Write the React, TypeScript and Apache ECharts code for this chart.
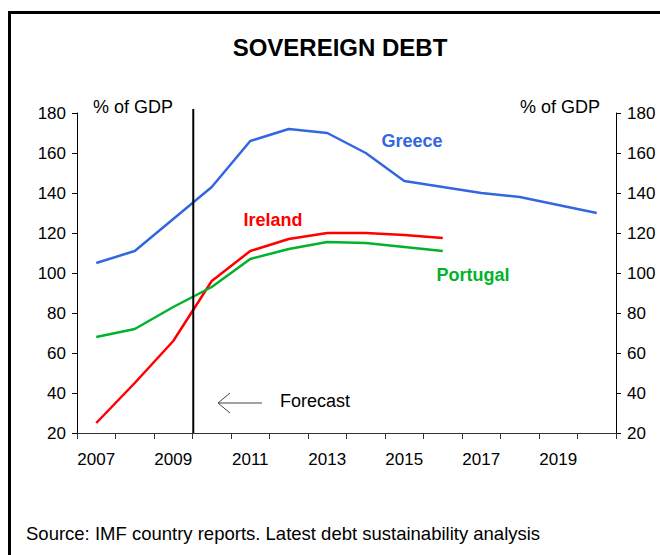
import React, { useEffect, useRef } from "react";
import * as echarts from "echarts";

const years = ["2007","2008","2009","2010","2011","2012","2013","2014","2015","2016","2017","2018","2019","2020"];
const greece = [105, 111, 127, 143, 166, 172, 170, 160, 146, 143, 140, 138, 134, 130];
const ireland = [25, 45, 66, 96, 111, 117, 120, 120, 119, 117.5];
const portugal = [68, 72, 83, 93, 107, 112, 115.5, 115, 113, 111];
const forecastStart = 2009.52;
const forecastLine = [[forecastStart, 20], [forecastStart, 182]];
const yTicks = { min: 20, max: 180, interval: 20 };

const FONT = "'Liberation Sans', Arial, sans-serif";
const BLUE = "#3366e0";
const RED = "#ff0000";
const GREEN = "#00b32d";

export default function App() {
  const ref = useRef<HTMLDivElement>(null);
  useEffect(() => {
    document.body.style.margin = "0";
    const chart = echarts.init(ref.current!, null, { renderer: "svg" });
    const axisLabel = { fontSize: 17, color: "#000", fontFamily: FONT, margin: 11 };
    const yAxisBase = {
      type: "value",
      min: yTicks.min,
      max: yTicks.max,
      interval: yTicks.interval,
      axisLine: { show: true, lineStyle: { color: "#000", width: 1 } },
      axisTick: { show: true, length: 5, lineStyle: { color: "#000" } },
      splitLine: { show: false },
      axisLabel,
    };
    const txt = (text: string, x: number, y: number, opts: any = {}) => ({
      type: "text",
      x,
      y,
      silent: true,
      style: {
        text,
        fill: opts.fill || "#000",
        font: `${opts.weight || "normal"} ${opts.size || 18}px ${FONT}`,
        align: opts.align || "left",
        verticalAlign: "middle",
      },
    });
    chart.setOption({
      animation: false,
      backgroundColor: "#fff",
      grid: { left: 77, right: 44, top: 113, bottom: 122 },
      xAxis: [
        {
          type: "category",
          data: years,
          boundaryGap: true,
          axisLine: { show: true, lineStyle: { color: "#333", width: 1 } },
          axisTick: { show: true, interval: 0, length: 6, lineStyle: { color: "#333" } },
          axisLabel: { ...axisLabel, interval: 1, margin: 18 },
          splitLine: { show: false },
        },
        {
          type: "value",
          min: 2006.5,
          max: 2020.5,
          show: false,
          splitLine: { show: false },
        },
      ],
      yAxis: [
        { ...yAxisBase, position: "left" },
        { ...yAxisBase, position: "right" },
      ],
      series: [
        {
          name: "Greece",
          type: "line",
          data: greece,
          symbol: "none",
          lineStyle: { color: BLUE, width: 2.5 },
          itemStyle: { color: BLUE },
        },
        {
          name: "Ireland",
          type: "line",
          data: ireland,
          symbol: "none",
          lineStyle: { color: RED, width: 2.5 },
          itemStyle: { color: RED },
        },
        {
          name: "Portugal",
          type: "line",
          data: portugal,
          symbol: "none",
          lineStyle: { color: GREEN, width: 2.5 },
          itemStyle: { color: GREEN },
        },
        {
          name: "forecast",
          type: "line",
          xAxisIndex: 1,
          yAxisIndex: 0,
          data: forecastLine,
          symbol: "none",
          clip: false,
          silent: true,
          lineStyle: { color: "#000", width: 2 },
          itemStyle: { color: "#000" },
        },
      ],
      graphic: [
        {
          type: "rect",
          shape: { x: 9.5, y: 12.5, width: 800, height: 700 },
          style: { fill: "none", stroke: "#000", lineWidth: 3 },
          silent: true,
        },
        txt("SOVEREIGN DEBT", 340, 47, { weight: "bold", size: 24, align: "center" }),
        txt("% of GDP", 93, 107),
        txt("% of GDP", 600, 107, { align: "right" }),
        txt("Greece", 412, 141, { weight: "bold", fill: BLUE, align: "center" }),
        txt("Ireland", 273, 220, { weight: "bold", fill: RED, align: "center" }),
        txt("Portugal", 473, 275, { weight: "bold", fill: GREEN, align: "center" }),
        txt("Forecast", 280, 401),
        {
          type: "line",
          shape: { x1: 218, y1: 403, x2: 262, y2: 403 },
          style: { stroke: "#444", lineWidth: 1 },
          silent: true,
        },
        {
          type: "polyline",
          shape: { points: [[230, 393], [218, 403], [230, 413]] },
          style: { stroke: "#444", lineWidth: 1, fill: "none" },
          silent: true,
        },
        txt("Source: IMF country reports. Latest debt sustainability analysis", 26, 533, { size: 18.5 }),
      ],
    });
    return () => chart.dispose();
  }, []);
  return (
    <div
      ref={ref}
      style={{ position: "absolute", left: 0, top: 0, width: 660, height: 555 }}
    />
  );
}
